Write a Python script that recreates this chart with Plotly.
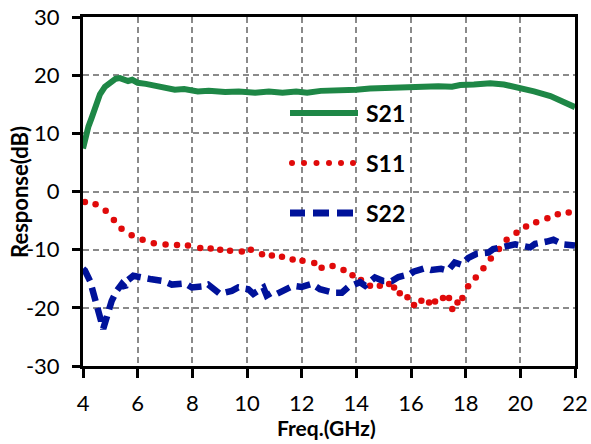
import plotly.graph_objects as go

# ---- data ----
s21_f = [4.0, 4.1, 4.2, 4.32, 4.45, 4.62, 4.8, 5.04, 5.2, 5.35, 5.5, 5.65, 5.8, 6.0, 6.3,
         6.74, 7.0, 7.36, 7.7, 8.2, 8.6, 9.2, 9.7, 10.3, 10.8, 11.3, 11.8, 12.2, 12.7,
         13.2, 13.6, 14.0, 14.5, 15.0, 15.5, 16.0, 16.5, 17.0, 17.5, 17.8, 18.3, 18.9,
         19.4, 20.0, 20.5, 21.1, 21.5, 22.0]
s21_db = [7.4, 9.5, 11.2, 12.7, 14.6, 16.7, 18.0, 19.0, 19.4, 19.5, 19.2, 19.0, 19.2, 18.7, 18.5,
          18.1, 17.9, 17.5, 17.6, 17.2, 17.3, 17.1, 17.2, 17.0, 17.2, 17.0, 17.2, 17.0, 17.3,
          17.3, 17.5, 17.5, 17.7, 17.8, 17.9, 18.0, 18.1, 18.1, 18.0, 18.3, 18.4, 18.6,
          18.4, 17.8, 17.2, 16.4, 15.5, 14.5]

s11_f = [4.07, 4.46, 4.83, 5.13, 5.41, 5.78, 6.18, 6.59, 7.02, 7.44, 7.84, 8.29, 8.67, 9.02,
         9.38, 9.81, 10.14, 10.55, 10.91, 11.28, 11.67, 12.03, 12.46, 12.73, 13.13, 13.53,
         13.86, 14.17, 14.5, 14.86, 15.2, 15.38, 15.59, 15.87, 16.11, 16.38, 16.66, 16.88,
         17.17, 17.39, 17.51, 17.7, 17.88, 18.09, 18.37, 18.65, 18.92, 19.22, 19.5, 19.86,
         20.21, 20.58, 20.99, 21.37, 21.77]
s11_db = [-1.8, -2.2, -3.3, -4.9, -6.4, -7.5, -8.3, -8.9, -9.1, -9.2, -9.3, -9.7, -9.8, -10.0,
          -10.2, -10.3, -10.0, -10.8, -11.0, -11.2, -11.7, -11.9, -12.3, -13.1, -12.8, -13.5,
          -14.4, -15.2, -16.2, -16.2, -15.9, -16.5, -17.5, -18.2, -19.5, -18.8, -19.1, -18.9,
          -18.3, -18.3, -20.2, -19.1, -18.3, -16.3, -14.8, -13.2, -11.5, -9.9, -8.3, -7.1,
          -6.0, -5.3, -4.6, -3.9, -3.6]

s22_f = [4.0, 4.07, 4.26, 4.44, 4.62, 4.74, 4.87, 5.05, 5.23, 5.42, 5.54, 5.6, 5.84, 6.15, 6.51,
         6.94, 7.25, 7.73, 7.98, 8.4, 8.58, 9.01, 9.44, 9.68, 10.05, 10.23, 10.6, 10.72, 10.9,
         11.09, 11.33, 11.7, 12.0, 12.37, 12.67, 12.98, 13.16, 13.47, 13.71, 14.14, 14.32,
         14.68, 14.99, 15.3, 15.54, 15.97, 16.09, 16.5, 16.74, 17.1, 17.35, 17.6, 17.85, 18.1,
         18.4, 18.83, 19.01, 19.5, 19.81, 20.36, 20.54, 20.97, 21.21, 21.58, 21.88, 22.0]
s22_db = [-13.3, -13.6, -15.4, -18.2, -21.6, -23.6, -21.6, -18.8, -17.1, -15.9, -16.5, -15.4,
          -14.5, -14.9, -15.1, -15.4, -16.0, -15.8, -16.5, -16.3, -16.0, -17.6, -17.1, -16.5,
          -16.8, -17.6, -16.5, -17.9, -17.4, -17.6, -17.1, -16.2, -16.4, -15.9, -16.8, -17.1,
          -17.4, -17.4, -16.4, -15.6, -16.2, -14.8, -15.4, -15.4, -14.7, -14.2, -13.8, -13.2,
          -13.5, -13.3, -13.6, -12.2, -12.6, -11.4, -10.7, -10.5, -9.9, -9.4, -9.1, -9.6,
          -9.0, -8.6, -8.3, -9.1, -9.4, -9.3]

x_ticks = [4, 6, 8, 10, 12, 14, 16, 18, 20, 22]
y_ticks = [-30, -20, -10, 0, 10, 20, 30]
legend_names = ["S21", "S11", "S22"]
x_title = "Freq.(GHz)"
y_title = "Response(dB)"

GREEN = "#1E8746"
RED = "#E00A0A"
BLUE = "#00129A"

fig = go.Figure()
fig.add_trace(go.Scatter(x=s21_f, y=s21_db, mode="lines", name="S21",
                         line=dict(color=GREEN, width=6), showlegend=False))
fig.add_trace(go.Scatter(x=s11_f, y=s11_db, mode="markers", name="S11",
                         marker=dict(color=RED, size=6.5), showlegend=False))
fig.add_trace(go.Scatter(x=s22_f, y=s22_db, mode="lines", name="S22",
                         line=dict(color=BLUE, width=6.5, dash="14px,7px"), showlegend=False))

# ---- manual legend (paper coords) ----
def px2paper_x(px):
    return (px - 83) / 492.0

def px2paper_y(py):
    return (366 - py) / 349.0

shapes = []
shapes.append(dict(type="line", xref="paper", yref="paper",
                   x0=px2paper_x(290), x1=px2paper_x(358), y0=px2paper_y(113), y1=px2paper_y(113),
                   line=dict(color=GREEN, width=6)))
for cx in [292, 304, 316.5, 329, 341, 353]:
    shapes.append(dict(type="circle", xref="paper", yref="paper",
                       x0=px2paper_x(cx - 3), x1=px2paper_x(cx + 3),
                       y0=px2paper_y(163 + 3), y1=px2paper_y(163 - 3),
                       fillcolor=RED, line=dict(width=0)))
for a, b in [(290, 305), (313, 329), (337, 353)]:
    shapes.append(dict(type="line", xref="paper", yref="paper",
                       x0=px2paper_x(a), x1=px2paper_x(b), y0=px2paper_y(213), y1=px2paper_y(213),
                       line=dict(color=BLUE, width=7)))

annotations = []
for name, py in zip(legend_names, [113, 163, 213]):
    annotations.append(dict(text="<b>%s</b>" % name, xref="paper", yref="paper",
                            x=px2paper_x(364), y=px2paper_y(py), xanchor="left", yanchor="middle",
                            showarrow=False, font=dict(family="Lato", size=23, color="black")))
annotations.append(dict(text="<b>%s</b>" % x_title, xref="paper", yref="paper",
                        x=px2paper_x(326), y=px2paper_y(427), xanchor="center", yanchor="middle",
                        showarrow=False, font=dict(family="Lato", size=21, color="black")))
annotations.append(dict(text="<b>%s</b>" % y_title, xref="paper", yref="paper",
                        x=px2paper_x(19), y=px2paper_y(192), xanchor="center", yanchor="middle",
                        textangle=-90,
                        showarrow=False, font=dict(family="Lato", size=22, color="black")))

fig.update_layout(
    width=591, height=444,
    margin=dict(l=83, r=16, t=17, b=78, autoexpand=False),
    plot_bgcolor="white", paper_bgcolor="white",
    shapes=shapes, annotations=annotations,
    showlegend=False,
    font=dict(family="Lato", size=22, color="black"),
)
fig.update_xaxes(range=[4, 22], tickvals=x_ticks, ticktext=[str(v) for v in x_ticks],
                 automargin=False,
                 showline=True, linecolor="black", linewidth=3, mirror=True,
                 ticks="outside", ticklen=9, tickwidth=3, tickcolor="black",
                 ticklabelstandoff=7,
                 showgrid=True, gridcolor="#8A8A8A", gridwidth=1.5, griddash="6px,4px",
                 zeroline=False)
fig.update_yaxes(range=[-30, 30], tickvals=y_ticks, ticktext=[str(v) for v in y_ticks],
                 automargin=False,
                 showline=True, linecolor="black", linewidth=3, mirror=True,
                 ticks="outside", ticklen=8, tickwidth=3, tickcolor="black",
                 ticklabelstandoff=8,
                 showgrid=True, gridcolor="#8A8A8A", gridwidth=1.5, griddash="6px,4px",
                 zeroline=False)

fig.write_html("out.html")
